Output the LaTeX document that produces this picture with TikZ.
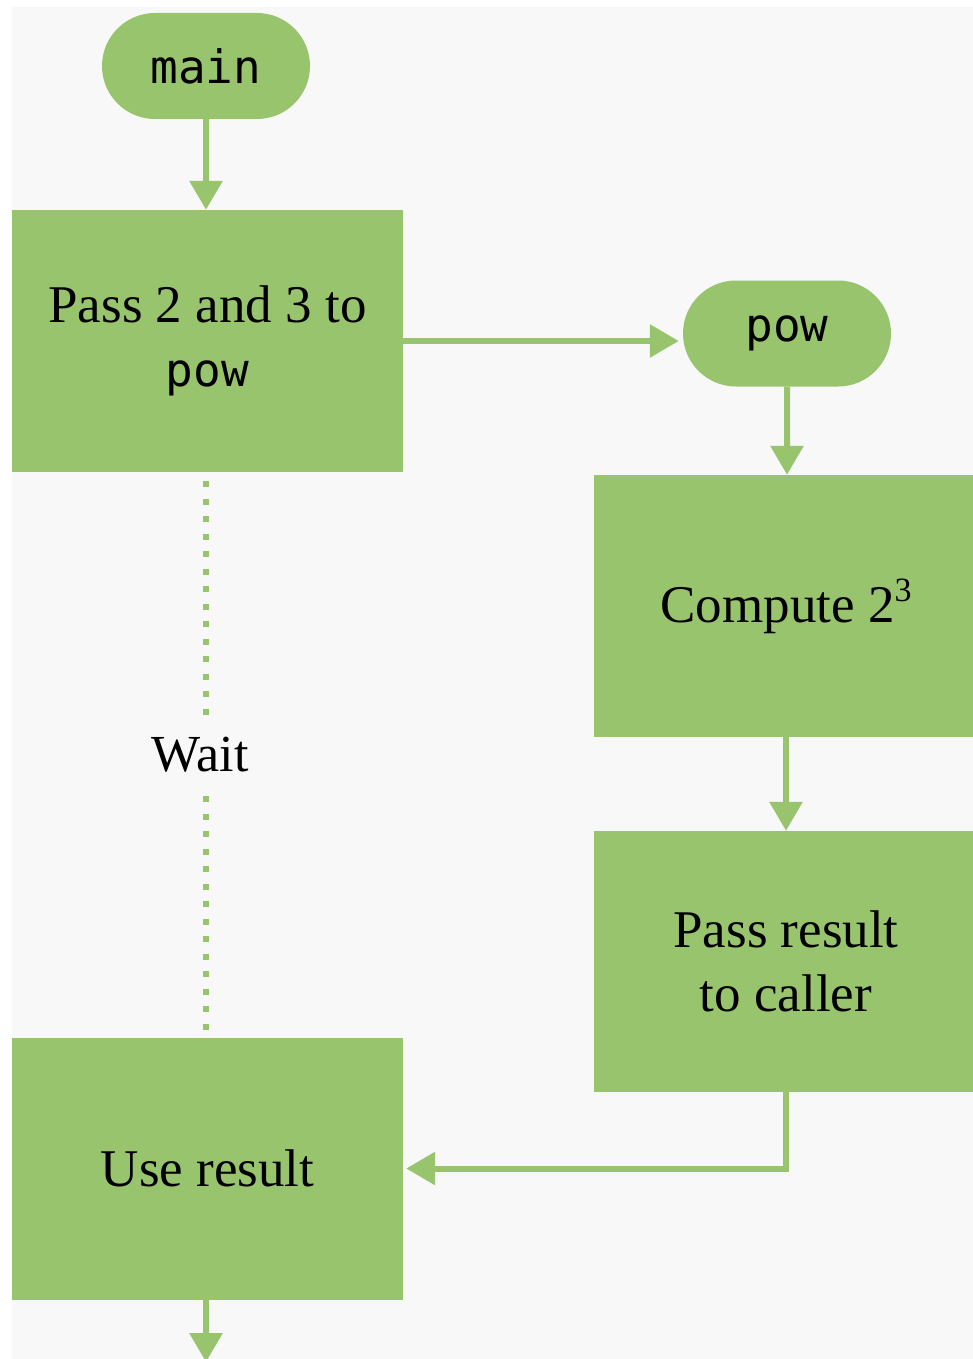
\documentclass[tikz,border=0pt]{standalone}
\usepackage{fontspec}
\setmainfont{Liberation Serif}
\newfontfamily\codefont{DejaVu Sans Mono}
\usetikzlibrary{arrows.meta,shapes.misc}
\definecolor{leaf}{RGB}{153,196,110}
\definecolor{paper}{RGB}{248,248,248}
\newcommand{\codetext}[1]{{\codefont\fontsize{46}{50}\selectfont #1}}
\newcommand{\supthree}{\raisebox{21pt}{\fontsize{34}{34}\selectfont 3}}
\begin{document}
\begin{tikzpicture}[x=1pt,y=-1pt,
  box/.style={fill=leaf, minimum width=391pt, minimum height=262pt, inner sep=0pt,
              align=center, font=\fontsize{53}{64}\selectfont},
  pill/.style={rounded rectangle, fill=leaf, minimum width=208pt, minimum height=106pt,
               inner sep=0pt, font=\codefont\fontsize{46}{50}\selectfont},
  flow/.style={draw=leaf, line width=6pt, -{Triangle[length=29pt,width=32pt]}},
  waitline/.style={draw=leaf, line width=6pt, dash pattern=on 6pt off 11.5pt},
  waitlabel/.style={fill=paper, font=\fontsize{52}{60}\selectfont, inner sep=16pt}]
\useasboundingbox (0,0) rectangle (973,1359);
\clip (0,0) rectangle (973,1359);
\fill[white] (0,0) rectangle (973,1359);
\fill[paper] (12,7) rectangle (973,1359);

% left column: caller
\node[pill] (main) at (206,66) {main};
\node[box] (pass) at (207.5,341) {Pass 2 and 3 to\\\codetext{pow}};
\node[box] (use) at (207.5,1168.5) {Use result};
\coordinate (exit) at (206,1362);

% right column: callee
\node[pill] (pow) at (787,333.5) {pow};
\node[box, minimum width=384pt] (comp) at (786,606) {\raisebox{-6pt}{Compute 2\supthree}};
\node[box, minimum width=384pt, minimum height=261pt] (ret) at (786,961.5) {Pass result\\to caller};

% connectors
\draw[flow] (main) -- (main |- pass.north);
\draw[flow, shorten >=4pt] (pass.east) -- (pass.east -| pow.west);
\draw[flow] (pow) -- (pow |- comp.north);
\draw[flow] (comp) -- (comp |- ret.north);
\draw[flow, shorten >=3pt] (ret.south) |- (use.east);
\draw[flow] (use.south -| exit) -- (exit);
\draw[waitline, shorten <=9pt] (pass.south -| exit) -- node[waitlabel, xshift=-6pt] {Wait} (use.north -| exit);
\end{tikzpicture}
\end{document}
